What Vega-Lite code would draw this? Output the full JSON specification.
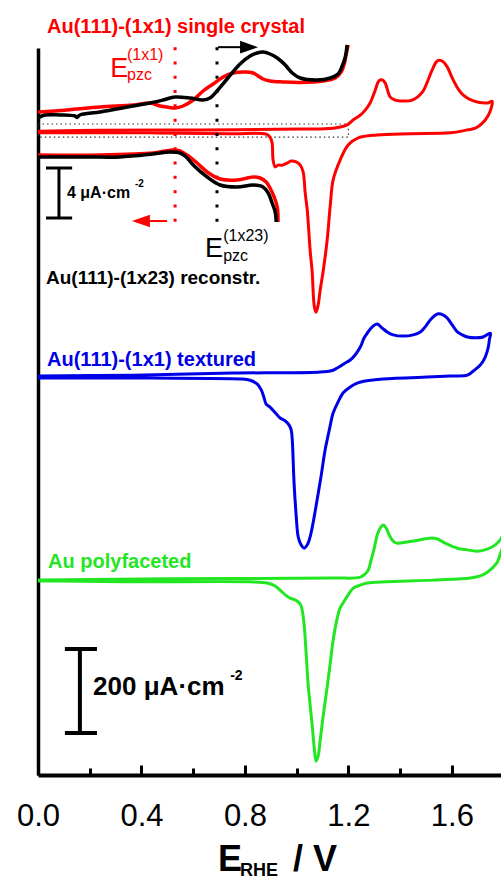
{
  "$schema": "https://vega.github.io/schema/vega-lite/v6.json",
  "width": 463,
  "height": 727,
  "autosize": {"type": "none"},
  "padding": {"left": 38, "top": 48, "right": 0, "bottom": 106},
  "background": "white",
  "config": {"view": {"stroke": null}, "font": "Liberation Sans"},
  "datasets": {
    "cv": [
      {"sample": "single crystal", "i": 0, "E": 0, "j": 1533},
      {"sample": "single crystal", "i": 1, "E": 0.24, "j": 1535},
      {"sample": "single crystal", "i": 2, "E": 0.627, "j": 1536},
      {"sample": "single crystal", "i": 3, "E": 1.014, "j": 1538},
      {"sample": "single crystal", "i": 4, "E": 1.141, "j": 1540},
      {"sample": "single crystal", "i": 5, "E": 1.195, "j": 1548},
      {"sample": "single crystal", "i": 6, "E": 1.219, "j": 1560},
      {"sample": "single crystal", "i": 7, "E": 1.246, "j": 1571},
      {"sample": "single crystal", "i": 8, "E": 1.265, "j": 1583},
      {"sample": "single crystal", "i": 9, "E": 1.284, "j": 1600},
      {"sample": "single crystal", "i": 10, "E": 1.304, "j": 1631},
      {"sample": "single crystal", "i": 11, "E": 1.315, "j": 1650},
      {"sample": "single crystal", "i": 12, "E": 1.323, "j": 1655},
      {"sample": "single crystal", "i": 13, "E": 1.331, "j": 1655},
      {"sample": "single crystal", "i": 14, "E": 1.342, "j": 1648},
      {"sample": "single crystal", "i": 15, "E": 1.362, "j": 1614},
      {"sample": "single crystal", "i": 16, "E": 1.381, "j": 1607},
      {"sample": "single crystal", "i": 17, "E": 1.4, "j": 1605},
      {"sample": "single crystal", "i": 18, "E": 1.447, "j": 1607},
      {"sample": "single crystal", "i": 19, "E": 1.486, "j": 1626},
      {"sample": "single crystal", "i": 20, "E": 1.505, "j": 1650},
      {"sample": "single crystal", "i": 21, "E": 1.524, "j": 1679},
      {"sample": "single crystal", "i": 22, "E": 1.54, "j": 1698},
      {"sample": "single crystal", "i": 23, "E": 1.551, "j": 1702},
      {"sample": "single crystal", "i": 24, "E": 1.567, "j": 1698},
      {"sample": "single crystal", "i": 25, "E": 1.582, "j": 1686},
      {"sample": "single crystal", "i": 26, "E": 1.605, "j": 1655},
      {"sample": "single crystal", "i": 27, "E": 1.625, "j": 1633},
      {"sample": "single crystal", "i": 28, "E": 1.644, "j": 1619},
      {"sample": "single crystal", "i": 29, "E": 1.683, "j": 1605},
      {"sample": "single crystal", "i": 30, "E": 1.737, "j": 1600},
      {"sample": "single crystal", "i": 31, "E": 1.756, "j": 1604},
      {"sample": "single crystal", "i": 32, "E": 1.752, "j": 1588},
      {"sample": "single crystal", "i": 33, "E": 1.741, "j": 1571},
      {"sample": "single crystal", "i": 34, "E": 1.718, "j": 1552},
      {"sample": "single crystal", "i": 35, "E": 1.691, "j": 1540},
      {"sample": "single crystal", "i": 36, "E": 1.66, "j": 1536},
      {"sample": "single crystal", "i": 37, "E": 1.594, "j": 1529},
      {"sample": "single crystal", "i": 38, "E": 1.439, "j": 1527},
      {"sample": "single crystal", "i": 39, "E": 1.311, "j": 1524},
      {"sample": "single crystal", "i": 40, "E": 1.238, "j": 1517},
      {"sample": "single crystal", "i": 41, "E": 1.199, "j": 1500},
      {"sample": "single crystal", "i": 42, "E": 1.168, "j": 1464},
      {"sample": "single crystal", "i": 43, "E": 1.141, "j": 1417},
      {"sample": "single crystal", "i": 44, "E": 1.13, "j": 1357},
      {"sample": "single crystal", "i": 45, "E": 1.118, "j": 1274},
      {"sample": "single crystal", "i": 46, "E": 1.103, "j": 1202},
      {"sample": "single crystal", "i": 47, "E": 1.091, "j": 1155},
      {"sample": "single crystal", "i": 48, "E": 1.083, "j": 1119},
      {"sample": "single crystal", "i": 49, "E": 1.075, "j": 1102},
      {"sample": "single crystal", "i": 50, "E": 1.068, "j": 1117},
      {"sample": "single crystal", "i": 51, "E": 1.06, "j": 1198},
      {"sample": "single crystal", "i": 52, "E": 1.052, "j": 1250},
      {"sample": "single crystal", "i": 53, "E": 1.041, "j": 1345},
      {"sample": "single crystal", "i": 54, "E": 1.033, "j": 1386},
      {"sample": "single crystal", "i": 55, "E": 1.025, "j": 1436},
      {"sample": "single crystal", "i": 56, "E": 1.014, "j": 1452},
      {"sample": "single crystal", "i": 57, "E": 0.998, "j": 1460},
      {"sample": "single crystal", "i": 58, "E": 0.979, "j": 1462},
      {"sample": "single crystal", "i": 59, "E": 0.963, "j": 1457},
      {"sample": "single crystal", "i": 60, "E": 0.944, "j": 1452},
      {"sample": "single crystal", "i": 61, "E": 0.928, "j": 1452},
      {"sample": "single crystal", "i": 62, "E": 0.917, "j": 1448},
      {"sample": "single crystal", "i": 63, "E": 0.909, "j": 1464},
      {"sample": "single crystal", "i": 64, "E": 0.905, "j": 1505},
      {"sample": "single crystal", "i": 65, "E": 0.897, "j": 1519},
      {"sample": "single crystal", "i": 66, "E": 0.882, "j": 1526},
      {"sample": "single crystal", "i": 67, "E": 0.743, "j": 1527},
      {"sample": "single crystal", "i": 68, "E": 0.433, "j": 1529},
      {"sample": "single crystal", "i": 69, "E": 0, "j": 1529},

      {"sample": "textured", "i": 0, "E": 0, "j": 950},
      {"sample": "textured", "i": 1, "E": 0.368, "j": 952},
      {"sample": "textured", "i": 2, "E": 0.754, "j": 957},
      {"sample": "textured", "i": 3, "E": 1.13, "j": 962},
      {"sample": "textured", "i": 4, "E": 1.157, "j": 969},
      {"sample": "textured", "i": 5, "E": 1.188, "j": 981},
      {"sample": "textured", "i": 6, "E": 1.207, "j": 988},
      {"sample": "textured", "i": 7, "E": 1.226, "j": 1000},
      {"sample": "textured", "i": 8, "E": 1.246, "j": 1019},
      {"sample": "textured", "i": 9, "E": 1.261, "j": 1041},
      {"sample": "textured", "i": 10, "E": 1.273, "j": 1052},
      {"sample": "textured", "i": 11, "E": 1.292, "j": 1067},
      {"sample": "textured", "i": 12, "E": 1.311, "j": 1074},
      {"sample": "textured", "i": 13, "E": 1.331, "j": 1064},
      {"sample": "textured", "i": 14, "E": 1.35, "j": 1055},
      {"sample": "textured", "i": 15, "E": 1.373, "j": 1048},
      {"sample": "textured", "i": 16, "E": 1.412, "j": 1045},
      {"sample": "textured", "i": 17, "E": 1.451, "j": 1048},
      {"sample": "textured", "i": 18, "E": 1.478, "j": 1055},
      {"sample": "textured", "i": 19, "E": 1.497, "j": 1067},
      {"sample": "textured", "i": 20, "E": 1.516, "j": 1083},
      {"sample": "textured", "i": 21, "E": 1.532, "j": 1093},
      {"sample": "textured", "i": 22, "E": 1.547, "j": 1098},
      {"sample": "textured", "i": 23, "E": 1.567, "j": 1095},
      {"sample": "textured", "i": 24, "E": 1.582, "j": 1088},
      {"sample": "textured", "i": 25, "E": 1.602, "j": 1071},
      {"sample": "textured", "i": 26, "E": 1.621, "j": 1055},
      {"sample": "textured", "i": 27, "E": 1.64, "j": 1048},
      {"sample": "textured", "i": 28, "E": 1.66, "j": 1043},
      {"sample": "textured", "i": 29, "E": 1.691, "j": 1041},
      {"sample": "textured", "i": 30, "E": 1.721, "j": 1043},
      {"sample": "textured", "i": 31, "E": 1.749, "j": 1052},
      {"sample": "textured", "i": 32, "E": 1.745, "j": 1036},
      {"sample": "textured", "i": 33, "E": 1.741, "j": 1019},
      {"sample": "textured", "i": 34, "E": 1.729, "j": 995},
      {"sample": "textured", "i": 35, "E": 1.71, "j": 976},
      {"sample": "textured", "i": 36, "E": 1.683, "j": 962},
      {"sample": "textured", "i": 37, "E": 1.66, "j": 952},
      {"sample": "textured", "i": 38, "E": 1.594, "j": 950},
      {"sample": "textured", "i": 39, "E": 1.528, "j": 948},
      {"sample": "textured", "i": 40, "E": 1.335, "j": 943},
      {"sample": "textured", "i": 41, "E": 1.265, "j": 938},
      {"sample": "textured", "i": 42, "E": 1.234, "j": 933},
      {"sample": "textured", "i": 43, "E": 1.207, "j": 924},
      {"sample": "textured", "i": 44, "E": 1.18, "j": 910},
      {"sample": "textured", "i": 45, "E": 1.16, "j": 888},
      {"sample": "textured", "i": 46, "E": 1.141, "j": 862},
      {"sample": "textured", "i": 47, "E": 1.126, "j": 821},
      {"sample": "textured", "i": 48, "E": 1.11, "j": 774},
      {"sample": "textured", "i": 49, "E": 1.095, "j": 714},
      {"sample": "textured", "i": 50, "E": 1.079, "j": 655},
      {"sample": "textured", "i": 51, "E": 1.064, "j": 602},
      {"sample": "textured", "i": 52, "E": 1.052, "j": 567},
      {"sample": "textured", "i": 53, "E": 1.041, "j": 548},
      {"sample": "textured", "i": 54, "E": 1.029, "j": 540},
      {"sample": "textured", "i": 55, "E": 1.017, "j": 548},
      {"sample": "textured", "i": 56, "E": 1.006, "j": 567},
      {"sample": "textured", "i": 57, "E": 0.998, "j": 619},
      {"sample": "textured", "i": 58, "E": 0.99, "j": 695},
      {"sample": "textured", "i": 59, "E": 0.983, "j": 798},
      {"sample": "textured", "i": 60, "E": 0.979, "j": 821},
      {"sample": "textured", "i": 61, "E": 0.971, "j": 833},
      {"sample": "textured", "i": 62, "E": 0.956, "j": 843},
      {"sample": "textured", "i": 63, "E": 0.936, "j": 850},
      {"sample": "textured", "i": 64, "E": 0.921, "j": 860},
      {"sample": "textured", "i": 65, "E": 0.897, "j": 876},
      {"sample": "textured", "i": 66, "E": 0.882, "j": 883},
      {"sample": "textured", "i": 67, "E": 0.874, "j": 898},
      {"sample": "textured", "i": 68, "E": 0.863, "j": 917},
      {"sample": "textured", "i": 69, "E": 0.847, "j": 931},
      {"sample": "textured", "i": 70, "E": 0.82, "j": 940},
      {"sample": "textured", "i": 71, "E": 0.781, "j": 943},
      {"sample": "textured", "i": 72, "E": 0.433, "j": 945},
      {"sample": "textured", "i": 73, "E": 0, "j": 945},

      {"sample": "polyfaceted", "i": 0, "E": 0, "j": 464},
      {"sample": "polyfaceted", "i": 1, "E": 0.499, "j": 467},
      {"sample": "polyfaceted", "i": 2, "E": 1.141, "j": 469},
      {"sample": "polyfaceted", "i": 3, "E": 1.246, "j": 471},
      {"sample": "polyfaceted", "i": 4, "E": 1.265, "j": 479},
      {"sample": "polyfaceted", "i": 5, "E": 1.277, "j": 488},
      {"sample": "polyfaceted", "i": 6, "E": 1.288, "j": 512},
      {"sample": "polyfaceted", "i": 7, "E": 1.3, "j": 540},
      {"sample": "polyfaceted", "i": 8, "E": 1.311, "j": 571},
      {"sample": "polyfaceted", "i": 9, "E": 1.323, "j": 588},
      {"sample": "polyfaceted", "i": 10, "E": 1.335, "j": 595},
      {"sample": "polyfaceted", "i": 11, "E": 1.346, "j": 588},
      {"sample": "polyfaceted", "i": 12, "E": 1.358, "j": 571},
      {"sample": "polyfaceted", "i": 13, "E": 1.373, "j": 557},
      {"sample": "polyfaceted", "i": 14, "E": 1.389, "j": 552},
      {"sample": "polyfaceted", "i": 15, "E": 1.427, "j": 555},
      {"sample": "polyfaceted", "i": 16, "E": 1.478, "j": 560},
      {"sample": "polyfaceted", "i": 17, "E": 1.516, "j": 564},
      {"sample": "polyfaceted", "i": 18, "E": 1.544, "j": 562},
      {"sample": "polyfaceted", "i": 19, "E": 1.574, "j": 552},
      {"sample": "polyfaceted", "i": 20, "E": 1.621, "j": 540},
      {"sample": "polyfaceted", "i": 21, "E": 1.66, "j": 536},
      {"sample": "polyfaceted", "i": 22, "E": 1.698, "j": 533},
      {"sample": "polyfaceted", "i": 23, "E": 1.737, "j": 538},
      {"sample": "polyfaceted", "i": 24, "E": 1.768, "j": 548},
      {"sample": "polyfaceted", "i": 25, "E": 1.787, "j": 560},
      {"sample": "polyfaceted", "i": 26, "E": 1.803, "j": 576},
      {"sample": "polyfaceted", "i": 27, "E": 1.795, "j": 540},
      {"sample": "polyfaceted", "i": 28, "E": 1.787, "j": 526},
      {"sample": "polyfaceted", "i": 29, "E": 1.776, "j": 507},
      {"sample": "polyfaceted", "i": 30, "E": 1.76, "j": 495},
      {"sample": "polyfaceted", "i": 31, "E": 1.737, "j": 483},
      {"sample": "polyfaceted", "i": 32, "E": 1.71, "j": 474},
      {"sample": "polyfaceted", "i": 33, "E": 1.671, "j": 469},
      {"sample": "polyfaceted", "i": 34, "E": 1.528, "j": 464},
      {"sample": "polyfaceted", "i": 35, "E": 1.273, "j": 457},
      {"sample": "polyfaceted", "i": 36, "E": 1.246, "j": 452},
      {"sample": "polyfaceted", "i": 37, "E": 1.219, "j": 445},
      {"sample": "polyfaceted", "i": 38, "E": 1.199, "j": 429},
      {"sample": "polyfaceted", "i": 39, "E": 1.18, "j": 410},
      {"sample": "polyfaceted", "i": 40, "E": 1.168, "j": 398},
      {"sample": "polyfaceted", "i": 41, "E": 1.157, "j": 374},
      {"sample": "polyfaceted", "i": 42, "E": 1.141, "j": 321},
      {"sample": "polyfaceted", "i": 43, "E": 1.13, "j": 267},
      {"sample": "polyfaceted", "i": 44, "E": 1.118, "j": 210},
      {"sample": "polyfaceted", "i": 45, "E": 1.103, "j": 143},
      {"sample": "polyfaceted", "i": 46, "E": 1.091, "j": 83},
      {"sample": "polyfaceted", "i": 47, "E": 1.083, "j": 45},
      {"sample": "polyfaceted", "i": 48, "E": 1.075, "j": 33},
      {"sample": "polyfaceted", "i": 49, "E": 1.068, "j": 64},
      {"sample": "polyfaceted", "i": 50, "E": 1.06, "j": 119},
      {"sample": "polyfaceted", "i": 51, "E": 1.052, "j": 167},
      {"sample": "polyfaceted", "i": 52, "E": 1.044, "j": 219},
      {"sample": "polyfaceted", "i": 53, "E": 1.037, "j": 286},
      {"sample": "polyfaceted", "i": 54, "E": 1.029, "j": 357},
      {"sample": "polyfaceted", "i": 55, "E": 1.021, "j": 393},
      {"sample": "polyfaceted", "i": 56, "E": 1.014, "j": 407},
      {"sample": "polyfaceted", "i": 57, "E": 0.994, "j": 417},
      {"sample": "polyfaceted", "i": 58, "E": 0.975, "j": 421},
      {"sample": "polyfaceted", "i": 59, "E": 0.956, "j": 429},
      {"sample": "polyfaceted", "i": 60, "E": 0.936, "j": 440},
      {"sample": "polyfaceted", "i": 61, "E": 0.917, "j": 450},
      {"sample": "polyfaceted", "i": 62, "E": 0.886, "j": 457},
      {"sample": "polyfaceted", "i": 63, "E": 0.82, "j": 460},
      {"sample": "polyfaceted", "i": 64, "E": 0.368, "j": 460},
      {"sample": "polyfaceted", "i": 65, "E": 0.085, "j": 462},
      {"sample": "polyfaceted", "i": 66, "E": 0, "j": 462}
    ],
    "inset": [
      {"surface": "1x1", "branch": "anodic", "i": 0, "E": 0, "j": 53.04},
      {"surface": "1x1", "branch": "anodic", "i": 1, "E": 0.112, "j": 53.2},
      {"surface": "1x1", "branch": "anodic", "i": 2, "E": 0.24, "j": 53.44},
      {"surface": "1x1", "branch": "anodic", "i": 3, "E": 0.368, "j": 53.6},
      {"surface": "1x1", "branch": "anodic", "i": 4, "E": 0.433, "j": 53.76},
      {"surface": "1x1", "branch": "anodic", "i": 5, "E": 0.472, "j": 53.52},
      {"surface": "1x1", "branch": "anodic", "i": 6, "E": 0.499, "j": 53.44},
      {"surface": "1x1", "branch": "anodic", "i": 7, "E": 0.53, "j": 53.36},
      {"surface": "1x1", "branch": "anodic", "i": 8, "E": 0.561, "j": 53.52},
      {"surface": "1x1", "branch": "anodic", "i": 9, "E": 0.6, "j": 54.0},
      {"surface": "1x1", "branch": "anodic", "i": 10, "E": 0.638, "j": 54.72},
      {"surface": "1x1", "branch": "anodic", "i": 11, "E": 0.677, "j": 55.28},
      {"surface": "1x1", "branch": "anodic", "i": 12, "E": 0.716, "j": 55.84},
      {"surface": "1x1", "branch": "anodic", "i": 13, "E": 0.754, "j": 56.16},
      {"surface": "1x1", "branch": "anodic", "i": 14, "E": 0.801, "j": 56.24},
      {"surface": "1x1", "branch": "anodic", "i": 15, "E": 0.832, "j": 56.16},
      {"surface": "1x1", "branch": "anodic", "i": 16, "E": 0.851, "j": 55.92},
      {"surface": "1x1", "branch": "anodic", "i": 17, "E": 0.87, "j": 55.68},
      {"surface": "1x1", "branch": "anodic", "i": 18, "E": 0.897, "j": 55.52},
      {"surface": "1x1", "branch": "anodic", "i": 19, "E": 0.948, "j": 55.44},
      {"surface": "1x1", "branch": "anodic", "i": 20, "E": 1.014, "j": 55.4},
      {"surface": "1x1", "branch": "anodic", "i": 21, "E": 1.103, "j": 55.52},
      {"surface": "1x1", "branch": "anodic", "i": 22, "E": 1.149, "j": 55.76},
      {"surface": "1x1", "branch": "anodic", "i": 23, "E": 1.172, "j": 56.24},
      {"surface": "1x1", "branch": "anodic", "i": 24, "E": 1.184, "j": 56.88},
      {"surface": "1x1", "branch": "anodic", "i": 25, "E": 1.191, "j": 57.6},
      {"surface": "1x1", "branch": "anodic", "i": 26, "E": 1.199, "j": 58.4},
      {"surface": "1x1", "branch": "cathodic", "i": 0, "E": 0, "j": 49.6},
      {"surface": "1x1", "branch": "cathodic", "i": 1, "E": 0.24, "j": 49.6},
      {"surface": "1x1", "branch": "cathodic", "i": 2, "E": 0.445, "j": 49.76},
      {"surface": "1x1", "branch": "cathodic", "i": 3, "E": 0.491, "j": 49.92},
      {"surface": "1x1", "branch": "cathodic", "i": 4, "E": 0.522, "j": 50.0},
      {"surface": "1x1", "branch": "cathodic", "i": 5, "E": 0.549, "j": 49.92},
      {"surface": "1x1", "branch": "cathodic", "i": 6, "E": 0.576, "j": 49.6},
      {"surface": "1x1", "branch": "cathodic", "i": 7, "E": 0.615, "j": 48.96},
      {"surface": "1x1", "branch": "cathodic", "i": 8, "E": 0.654, "j": 48.24},
      {"surface": "1x1", "branch": "cathodic", "i": 9, "E": 0.704, "j": 47.68},
      {"surface": "1x1", "branch": "cathodic", "i": 10, "E": 0.77, "j": 47.6},
      {"surface": "1x1", "branch": "cathodic", "i": 11, "E": 0.832, "j": 47.84},
      {"surface": "1x1", "branch": "cathodic", "i": 12, "E": 0.859, "j": 47.76},
      {"surface": "1x1", "branch": "cathodic", "i": 13, "E": 0.882, "j": 47.44},
      {"surface": "1x1", "branch": "cathodic", "i": 14, "E": 0.897, "j": 46.96},
      {"surface": "1x1", "branch": "cathodic", "i": 15, "E": 0.913, "j": 46.24},
      {"surface": "1x1", "branch": "cathodic", "i": 16, "E": 0.925, "j": 45.44},
      {"surface": "1x1", "branch": "cathodic", "i": 17, "E": 0.928, "j": 44.24},
      {"surface": "1x23", "branch": "anodic", "i": 0, "E": 0, "j": 52.56},
      {"surface": "1x23", "branch": "anodic", "i": 1, "E": 0.027, "j": 52.8},
      {"surface": "1x23", "branch": "anodic", "i": 2, "E": 0.085, "j": 52.8},
      {"surface": "1x23", "branch": "anodic", "i": 3, "E": 0.143, "j": 52.72},
      {"surface": "1x23", "branch": "anodic", "i": 4, "E": 0.151, "j": 52.6},
      {"surface": "1x23", "branch": "anodic", "i": 5, "E": 0.162, "j": 52.8},
      {"surface": "1x23", "branch": "anodic", "i": 6, "E": 0.24, "j": 53.04},
      {"surface": "1x23", "branch": "anodic", "i": 7, "E": 0.368, "j": 53.52},
      {"surface": "1x23", "branch": "anodic", "i": 8, "E": 0.433, "j": 53.76},
      {"surface": "1x23", "branch": "anodic", "i": 9, "E": 0.484, "j": 54.0},
      {"surface": "1x23", "branch": "anodic", "i": 10, "E": 0.53, "j": 54.24},
      {"surface": "1x23", "branch": "anodic", "i": 11, "E": 0.588, "j": 54.16},
      {"surface": "1x23", "branch": "anodic", "i": 12, "E": 0.638, "j": 54.0},
      {"surface": "1x23", "branch": "anodic", "i": 13, "E": 0.665, "j": 54.16},
      {"surface": "1x23", "branch": "anodic", "i": 14, "E": 0.692, "j": 54.72},
      {"surface": "1x23", "branch": "anodic", "i": 15, "E": 0.731, "j": 55.68},
      {"surface": "1x23", "branch": "anodic", "i": 16, "E": 0.781, "j": 56.88},
      {"surface": "1x23", "branch": "anodic", "i": 17, "E": 0.82, "j": 57.52},
      {"surface": "1x23", "branch": "anodic", "i": 18, "E": 0.847, "j": 57.76},
      {"surface": "1x23", "branch": "anodic", "i": 19, "E": 0.87, "j": 57.84},
      {"surface": "1x23", "branch": "anodic", "i": 20, "E": 0.897, "j": 57.68},
      {"surface": "1x23", "branch": "anodic", "i": 21, "E": 0.925, "j": 57.36},
      {"surface": "1x23", "branch": "anodic", "i": 22, "E": 0.956, "j": 56.8},
      {"surface": "1x23", "branch": "anodic", "i": 23, "E": 0.983, "j": 56.16},
      {"surface": "1x23", "branch": "anodic", "i": 24, "E": 1.014, "j": 55.76},
      {"surface": "1x23", "branch": "anodic", "i": 25, "E": 1.079, "j": 55.6},
      {"surface": "1x23", "branch": "anodic", "i": 26, "E": 1.13, "j": 55.76},
      {"surface": "1x23", "branch": "anodic", "i": 27, "E": 1.16, "j": 56.08},
      {"surface": "1x23", "branch": "anodic", "i": 28, "E": 1.176, "j": 56.72},
      {"surface": "1x23", "branch": "anodic", "i": 29, "E": 1.188, "j": 57.44},
      {"surface": "1x23", "branch": "anodic", "i": 30, "E": 1.195, "j": 58.4},
      {"surface": "1x23", "branch": "cathodic", "i": 0, "E": 0, "j": 49.44},
      {"surface": "1x23", "branch": "cathodic", "i": 1, "E": 0.19, "j": 49.44},
      {"surface": "1x23", "branch": "cathodic", "i": 2, "E": 0.317, "j": 49.44},
      {"surface": "1x23", "branch": "cathodic", "i": 3, "E": 0.445, "j": 49.68},
      {"surface": "1x23", "branch": "cathodic", "i": 4, "E": 0.511, "j": 49.84},
      {"surface": "1x23", "branch": "cathodic", "i": 5, "E": 0.549, "j": 49.76},
      {"surface": "1x23", "branch": "cathodic", "i": 6, "E": 0.573, "j": 49.44},
      {"surface": "1x23", "branch": "cathodic", "i": 7, "E": 0.6, "j": 48.8},
      {"surface": "1x23", "branch": "cathodic", "i": 8, "E": 0.654, "j": 47.84},
      {"surface": "1x23", "branch": "cathodic", "i": 9, "E": 0.704, "j": 47.2},
      {"surface": "1x23", "branch": "cathodic", "i": 10, "E": 0.77, "j": 47.04},
      {"surface": "1x23", "branch": "cathodic", "i": 11, "E": 0.832, "j": 47.2},
      {"surface": "1x23", "branch": "cathodic", "i": 12, "E": 0.87, "j": 47.04},
      {"surface": "1x23", "branch": "cathodic", "i": 13, "E": 0.89, "j": 46.56},
      {"surface": "1x23", "branch": "cathodic", "i": 14, "E": 0.905, "j": 45.76},
      {"surface": "1x23", "branch": "cathodic", "i": 15, "E": 0.917, "j": 45.04},
      {"surface": "1x23", "branch": "cathodic", "i": 16, "E": 0.921, "j": 44.24}
    ]
  },
  "encoding": {
    "x": {
      "field": "E",
      "type": "quantitative",
      "title": null,
      "scale": {"domain": [0, 1.79], "nice": false, "zero": false},
      "axis": {
        "values": [0, 0.2, 0.4, 0.6, 0.8, 1.0, 1.2, 1.4, 1.6],
        "grid": false,
        "title": null,
        "domainColor": "black",
        "domainWidth": 4,
        "tickColor": "black",
        "tickWidth": 3,
        "tickSize": {"condition": {"test": "round(datum.value * 10) % 4 === 0", "value": -10}, "value": -7},
        "labelExpr": "round(datum.value * 10) % 4 === 0 ? format(datum.value, '.1f') : ''",
        "labelFont": "Liberation Sans",
        "labelFontSize": 31,
        "labelColor": "black",
        "labelPadding": 36,
        "labelFlush": false,
        "labelOverlap": false
      }
    }
  },
  "layer": [
    {
      "encoding": {
        "y": {
          "field": "j",
          "type": "quantitative",
          "title": null,
          "scale": {"domain": [0, 1731], "nice": false, "zero": false},
          "axis": {"ticks": false, "labels": false, "grid": false, "title": null, "domainColor": "black", "domainWidth": 3.5}
        }
      },
      "layer": [
        {
          "data": {"values": [{"E": 0, "E2": 1.2, "j": 1550, "j2": 1519}]},
          "mark": {"type": "rect", "fillOpacity": 0, "stroke": "#333333", "strokeWidth": 1.2, "strokeDash": [1.5, 3]},
          "encoding": {"x2": {"field": "E2"}, "y2": {"field": "j2"}}
        },
        {
          "data": {"name": "cv"},
          "transform": [{"filter": "datum.sample === 'single crystal'"}],
          "mark": {"type": "line", "color": "#ff0000", "strokeWidth": 3, "interpolate": "catmull-rom", "clip": true, "strokeJoin": "round"},
          "encoding": {"order": {"field": "i", "type": "quantitative"}}
        },
        {
          "data": {"name": "cv"},
          "transform": [{"filter": "datum.sample === 'textured'"}],
          "mark": {"type": "line", "color": "#0000e6", "strokeWidth": 3, "interpolate": "catmull-rom", "clip": true, "strokeJoin": "round"},
          "encoding": {"order": {"field": "i", "type": "quantitative"}}
        },
        {
          "data": {"name": "cv"},
          "transform": [{"filter": "datum.sample === 'polyfaceted'"}],
          "mark": {"type": "line", "color": "#22e622", "strokeWidth": 3, "interpolate": "catmull-rom", "clip": true, "strokeJoin": "round"},
          "encoding": {"order": {"field": "i", "type": "quantitative"}}
        },
        {
          "data": {"values": [{"E": 0.53, "j": 1733, "j2": 1317}]},
          "mark": {"type": "rule", "color": "#ff0000", "strokeWidth": 3, "strokeDash": [3, 11.3]},
          "encoding": {"y2": {"field": "j2"}}
        },
        {
          "data": {"values": [{"E": 0.692, "j": 1733, "j2": 1317}]},
          "mark": {"type": "rule", "color": "black", "strokeWidth": 3, "strokeDash": [3, 11.3]},
          "encoding": {"y2": {"field": "j2"}}
        },
        {
          "data": {"values": [{"E": 0.696, "E2": 0.8, "j": 1733}]},
          "mark": {"type": "rule", "color": "black", "strokeWidth": 2},
          "encoding": {"x2": {"field": "E2"}}
        },
        {
          "data": {"values": [{"E": 0.816, "j": 1733}]},
          "mark": {"type": "point", "shape": "M1,0L-1,-0.7L-1,0.7Z", "filled": true, "size": 324, "color": "black", "opacity": 1}
        },
        {
          "data": {"values": [{"E": 0.499, "E2": 0.425, "j": 1319}]},
          "mark": {"type": "rule", "color": "#ff0000", "strokeWidth": 2},
          "encoding": {"x2": {"field": "E2"}}
        },
        {
          "data": {"values": [{"E": 0.398, "j": 1319}]},
          "mark": {"type": "point", "shape": "M-1,0L1,-0.7L1,0.7Z", "filled": true, "size": 324, "color": "#ff0000", "opacity": 1}
        },
        {
          "data": {"values": [
            {"E": 0.162, "E2": 0.162, "j": 100, "j2": 300},
            {"E": 0.104, "E2": 0.228, "j": 100, "j2": 100},
            {"E": 0.104, "E2": 0.228, "j": 300, "j2": 300}
          ]},
          "mark": {"type": "rule", "color": "black", "strokeWidth": 4},
          "encoding": {"x2": {"field": "E2"}, "y2": {"field": "j2"}}
        },
        {
          "data": {"values": [{"E": 0.035, "j": 1767, "text": "Au(111)-(1x1) single crystal"}]},
          "mark": {"type": "text", "align": "left", "baseline": "alphabetic", "font": "Liberation Sans", "fontWeight": "bold", "fontSize": 20, "color": "#ff0000"},
          "encoding": {"text": {"field": "text"}}
        },
        {
          "data": {"values": [{"E": 0.279, "j": 1662, "text": "E"}]},
          "mark": {"type": "text", "align": "left", "baseline": "alphabetic", "font": "Liberation Sans", "fontSize": 27, "color": "#ff0000"},
          "encoding": {"text": {"field": "text"}}
        },
        {
          "data": {"values": [{"E": 0.344, "j": 1702, "text": "(1x1)"}, {"E": 0.344, "j": 1655, "text": "pzc"}]},
          "mark": {"type": "text", "align": "left", "baseline": "alphabetic", "font": "Liberation Sans", "fontSize": 16, "color": "#ff0000"},
          "encoding": {"text": {"field": "text"}}
        },
        {
          "data": {"values": [{"E": 0.646, "j": 1233, "text": "E"}]},
          "mark": {"type": "text", "align": "left", "baseline": "alphabetic", "font": "Liberation Sans", "fontSize": 27, "color": "black"},
          "encoding": {"text": {"field": "text"}}
        },
        {
          "data": {"values": [{"E": 0.716, "j": 1271, "text": "(1x23)"}, {"E": 0.716, "j": 1224, "text": "pzc"}]},
          "mark": {"type": "text", "align": "left", "baseline": "alphabetic", "font": "Liberation Sans", "fontSize": 16, "color": "black"},
          "encoding": {"text": {"field": "text"}}
        },
        {
          "data": {"values": [{"E": 0.031, "j": 1169, "text": "Au(111)-(1x23) reconstr."}]},
          "mark": {"type": "text", "align": "left", "baseline": "alphabetic", "font": "Liberation Sans", "fontWeight": "bold", "fontSize": 19, "color": "black"},
          "encoding": {"text": {"field": "text"}}
        },
        {
          "data": {"values": [{"E": 0.112, "j": 1374, "text": "4 μA·cm"}]},
          "mark": {"type": "text", "align": "left", "baseline": "alphabetic", "font": "Liberation Sans", "fontWeight": "bold", "fontSize": 16, "color": "black"},
          "encoding": {"text": {"field": "text"}}
        },
        {
          "data": {"values": [{"E": 0.375, "j": 1400, "text": "-2"}]},
          "mark": {"type": "text", "align": "left", "baseline": "alphabetic", "font": "Liberation Sans", "fontWeight": "bold", "fontSize": 10, "color": "black"},
          "encoding": {"text": {"field": "text"}}
        },
        {
          "data": {"values": [{"E": 0.035, "j": 974, "text": "Au(111)-(1x1) textured"}]},
          "mark": {"type": "text", "align": "left", "baseline": "alphabetic", "font": "Liberation Sans", "fontWeight": "bold", "fontSize": 20, "color": "#0000e6"},
          "encoding": {"text": {"field": "text"}}
        },
        {
          "data": {"values": [{"E": 0.039, "j": 493, "text": "Au polyfaceted"}]},
          "mark": {"type": "text", "align": "left", "baseline": "alphabetic", "font": "Liberation Sans", "fontWeight": "bold", "fontSize": 20, "color": "#22e622"},
          "encoding": {"text": {"field": "text"}}
        },
        {
          "data": {"values": [{"E": 0.213, "j": 190, "text": "200 μA·cm"}]},
          "mark": {"type": "text", "align": "left", "baseline": "alphabetic", "font": "Liberation Sans", "fontWeight": "bold", "fontSize": 26, "color": "black"},
          "encoding": {"text": {"field": "text"}}
        },
        {
          "data": {"values": [{"E": 0.743, "j": 226, "text": "-2"}]},
          "mark": {"type": "text", "align": "left", "baseline": "alphabetic", "font": "Liberation Sans", "fontWeight": "bold", "fontSize": 14, "color": "black"},
          "encoding": {"text": {"field": "text"}}
        },
        {
          "data": {"values": [{"E": 0.696, "j": -229, "text": "E"}, {"E": 0.986, "j": -229, "text": "/ V"}]},
          "mark": {"type": "text", "align": "left", "baseline": "alphabetic", "font": "Liberation Sans", "fontWeight": "bold", "fontSize": 36, "color": "black"},
          "encoding": {"text": {"field": "text"}}
        },
        {
          "data": {"values": [{"E": 0.781, "j": -240, "text": "RHE"}]},
          "mark": {"type": "text", "align": "left", "baseline": "alphabetic", "font": "Liberation Sans", "fontWeight": "bold", "fontSize": 18, "color": "black"},
          "encoding": {"text": {"field": "text"}}
        }
      ]
    },
    {
      "encoding": {
        "y": {
          "field": "j",
          "type": "quantitative",
          "title": null,
          "scale": {"domain": [0, 58.16], "nice": false, "zero": false},
          "axis": null
        }
      },
      "layer": [
        {
          "data": {"name": "inset"},
          "transform": [{"filter": "datum.surface === '1x1'"}],
          "mark": {"type": "line", "color": "#ff0000", "strokeWidth": 3.5, "interpolate": "catmull-rom", "strokeJoin": "round"},
          "encoding": {"detail": {"field": "branch"}, "order": {"field": "i", "type": "quantitative"}}
        },
        {
          "data": {"name": "inset"},
          "transform": [{"filter": "datum.surface === '1x23'"}],
          "mark": {"type": "line", "color": "black", "strokeWidth": 3.5, "interpolate": "catmull-rom", "strokeJoin": "round"},
          "encoding": {"detail": {"field": "branch"}, "order": {"field": "i", "type": "quantitative"}}
        },
        {
          "data": {"values": [
            {"E": 0.081, "E2": 0.081, "j": 44.56, "j2": 48.56},
            {"E": 0.031, "E2": 0.132, "j": 44.56, "j2": 44.56},
            {"E": 0.031, "E2": 0.132, "j": 48.56, "j2": 48.56}
          ]},
          "mark": {"type": "rule", "color": "black", "strokeWidth": 3},
          "encoding": {"x2": {"field": "E2"}, "y2": {"field": "j2"}}
        }
      ]
    }
  ],
  "resolve": {"scale": {"y": "independent"}}
}
